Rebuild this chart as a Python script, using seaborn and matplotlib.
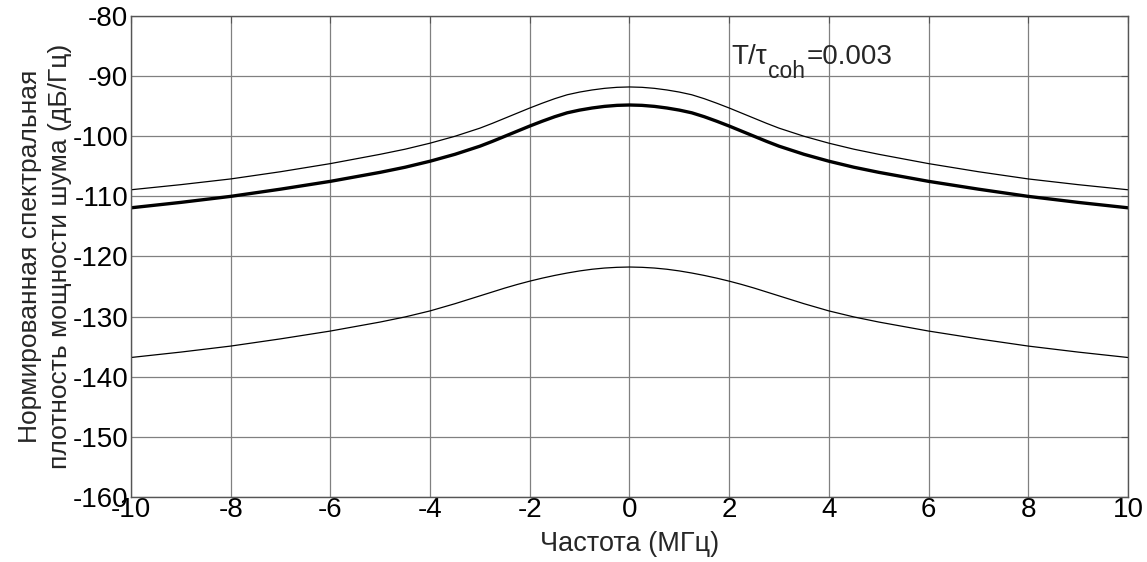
import numpy as np
import pandas as pd
import matplotlib
matplotlib.use("Agg")
import matplotlib.pyplot as plt
import matplotlib.transforms as mtransforms
import seaborn as sns

# Frequency (MHz), non-negative half; curves are symmetric about 0
freq_pos = [0, 0.25, 0.5, 0.75, 1.0, 1.25, 1.5, 1.75, 2.0, 2.25, 2.5, 2.75, 3.0,
            3.5, 4.0, 4.5, 5.0, 6.0, 7.0, 8.0, 9.0, 10.0]

# Upper thin curve (dB/Hz)
upper_pos = [-91.8, -91.86, -92.03, -92.3, -92.65, -93.1, -93.75, -94.5, -95.3, -96.15,
             -97.0, -97.85, -98.65, -100.0, -101.15, -102.15, -103.0, -104.55, -105.9,
             -107.1, -108.05, -108.9]

# Middle thick curve (dB/Hz)
middle_pos = [-94.8, -94.86, -95.03, -95.3, -95.65, -96.1, -96.75, -97.5, -98.3, -99.15,
              -100.0, -100.85, -101.65, -103.0, -104.15, -105.15, -106.0, -107.5, -108.8,
              -110.0, -111.0, -111.9]

# Lower thin curve (dB/Hz)
lower_pos = [-121.75, -121.8, -121.92, -122.12, -122.4, -122.75, -123.15, -123.6, -124.1,
             -124.65, -125.25, -125.9, -126.55, -127.85, -129.05, -130.05, -130.9, -132.4,
             -133.7, -134.9, -135.9, -136.8]

x_ticks = [-10, -8, -6, -4, -2, 0, 2, 4, 6, 8, 10]
y_ticks = [-160, -150, -140, -130, -120, -110, -100, -90, -80]


def mirror(xs, ys):
    fx = [-v for v in xs[:0:-1]] + list(xs)
    fy = list(ys[:0:-1]) + list(ys)
    return fx, fy


freq, upper = mirror(freq_pos, upper_pos)
_, middle = mirror(freq_pos, middle_pos)
_, lower = mirror(freq_pos, lower_pos)

sns.set_style("white")
plt.rcParams['font.family'] = ['Liberation Sans', 'DejaVu Sans']

fig = plt.figure(figsize=(11.47, 5.62), dpi=100)
ax = fig.add_axes([0.1142, 0.1157, 0.8692, 0.8558])

df = pd.DataFrame({"f": freq, "upper": upper, "middle": middle, "lower": lower})

sns.lineplot(data=df, x="f", y="upper", ax=ax, color="black", lw=0.9, sort=False)
sns.lineplot(data=df, x="f", y="middle", ax=ax, color="black", lw=2.4, sort=False)
sns.lineplot(data=df, x="f", y="lower", ax=ax, color="black", lw=0.9, sort=False)

ax.set_xlim(-10, 10)
ax.set_ylim(-160, -80)
ax.set_xticks(x_ticks)
ax.set_yticks(y_ticks)
ax.set_xticklabels([str(v) for v in x_ticks])
ax.set_yticklabels([str(v) for v in y_ticks])
ax.grid(True, color="#808080", lw=0.9)
ax.set_axisbelow(True)
for s in ax.spines.values():
    s.set_color("#555555")
    s.set_linewidth(1.0)
ax.tick_params(direction="in", length=5, width=0.8, colors="#555555",
               labelsize=20, labelcolor="black", top=True, right=True)
ax.tick_params(axis="x", pad=0)
ax.tick_params(axis="y", pad=2)

ax.set_xlabel("Частота (МГц)", fontsize=19.5, labelpad=6)
ax.set_ylabel("Нормированная спектральная\nплотность мощности шума (дБ/Гц)",
              fontsize=19, labelpad=0, linespacing=1.35)

# Annotation "T/τ_coh=0.003" composed from pieces
fig.canvas.draw()
renderer = fig.canvas.get_renderer()
t1 = ax.text(2.05, -88.0, "T/τ", fontsize=20, ha="left", va="baseline")
ext = t1.get_window_extent(renderer)
t2 = ax.text(2.05, -88.0, "coh", fontsize=16.5, ha="left", va="baseline",
             transform=ax.transData + mtransforms.ScaledTranslation(
                 (ext.width + 1) / fig.dpi, -14 / fig.dpi, fig.dpi_scale_trans))
ext2 = t2.get_window_extent(renderer)
t3 = ax.text(2.05, -88.0, "=0.003", fontsize=20, ha="left", va="baseline",
             transform=ax.transData + mtransforms.ScaledTranslation(
                 (ext.width + ext2.width + 2) / fig.dpi, 0, fig.dpi_scale_trans))

fig.savefig("out.png", dpi=100)
